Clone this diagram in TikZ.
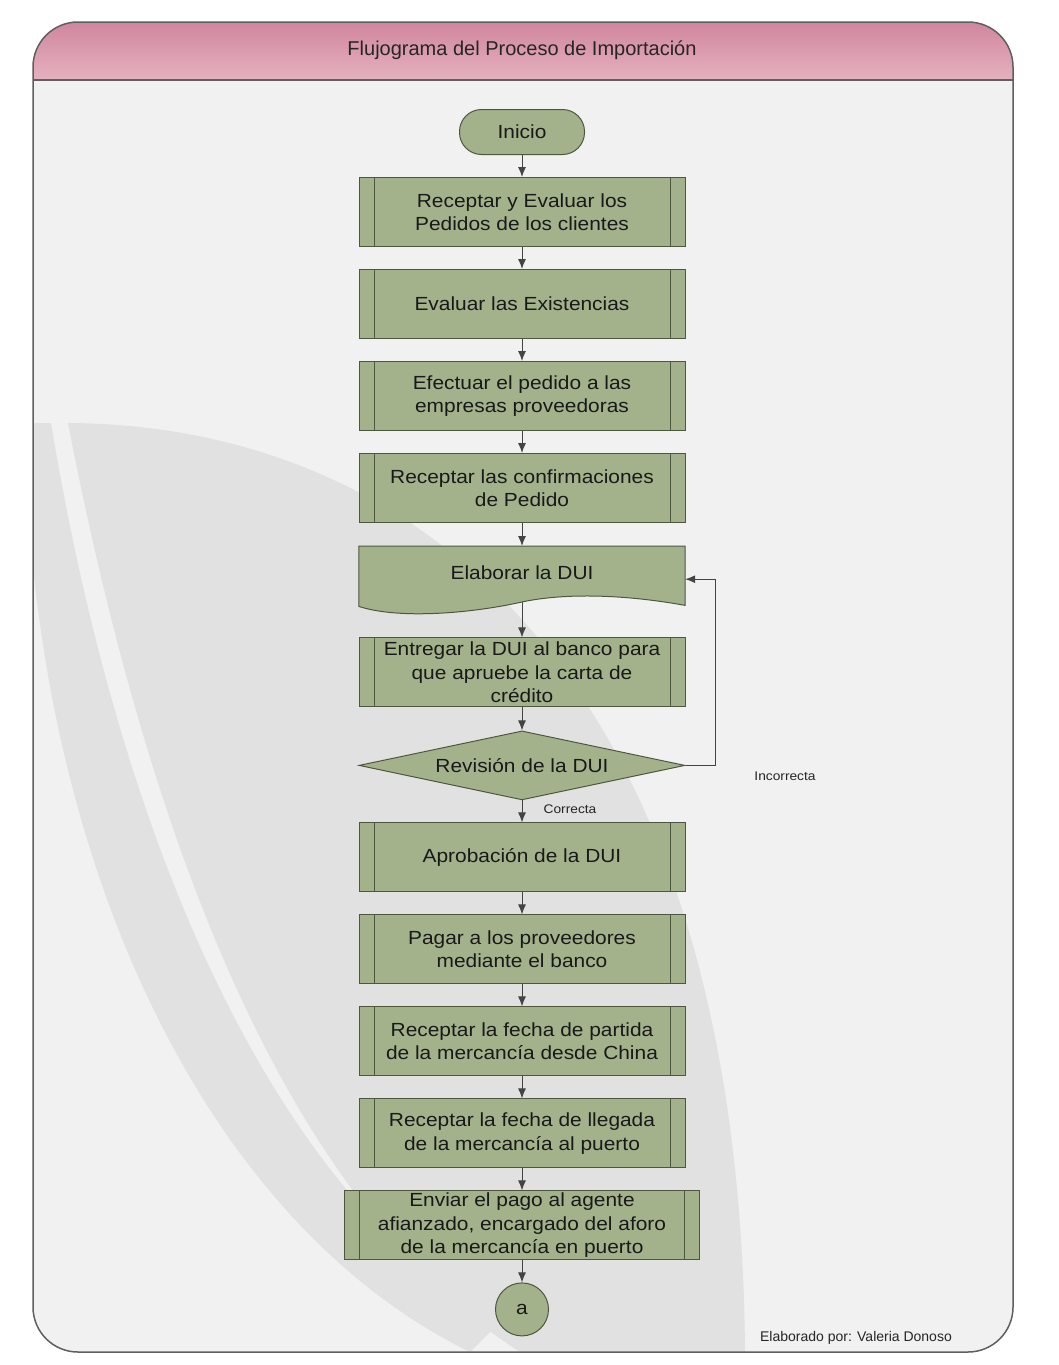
\documentclass[tikz,border=0pt]{standalone}
\usepackage{fontspec}
\setmainfont{Liberation Sans}
\newfontfamily\boxfont{Liberation Sans}[FakeStretch=1.1]
\usetikzlibrary{arrows.meta,shapes.geometric,positioning}
\pgfdeclarelayer{deco}
\pgfdeclarelayer{back}
\pgfsetlayers{deco,back,main}
\definecolor{boxfill}{RGB}{164,178,140}
\definecolor{boxline}{RGB}{78,86,64}
\definecolor{arrowgray}{RGB}{68,68,68}
\definecolor{framegray}{RGB}{95,95,95}
\definecolor{bandgray}{RGB}{225,225,225}
\definecolor{bggray}{RGB}{241,241,241}
\definecolor{pinktop}{RGB}{208,134,158}
\definecolor{pinkbot}{RGB}{229,177,191}
\tikzset{
    proc/.style={draw=boxline, fill=boxfill, line width=1pt, minimum width=326pt, minimum height=69pt,
        inner sep=0pt, align=center, text=black!90, font=\boxfont\fontsize{19}{23.5}\selectfont,
        path picture={\draw[boxline, line width=1pt]
            ([xshift=15pt]path picture bounding box.north west) -- ([xshift=15pt]path picture bounding box.south west)
            ([xshift=-15pt]path picture bounding box.north east) -- ([xshift=-15pt]path picture bounding box.south east);}},
    term/.style={draw=boxline, fill=boxfill, line width=1pt, rounded corners=22pt, minimum width=125pt,
        minimum height=45pt, text=black!90, font=\boxfont\fontsize{19}{23.5}\selectfont},
    docu/.style={minimum width=326pt, minimum height=56pt, inner sep=0pt, text height=14pt, text depth=3pt,
        text=black!90, font=\boxfont\fontsize{19}{23.5}\selectfont},
    decide/.style={diamond, aspect=4.7, draw=boxline, fill=boxfill, line width=1pt, minimum width=326pt,
        minimum height=69pt, inner sep=0pt, text=black!90, font=\boxfont\fontsize{19}{23.5}\selectfont},
    conn/.style={circle, draw=boxline, fill=boxfill, line width=1pt, minimum size=53pt, inner sep=0pt,
        text=black!90, font=\boxfont\fontsize{19}{23.5}\selectfont},
    flow/.style={-{Latex[length=10pt,width=8pt]}, line width=1pt, arrowgray},
    lbl/.style={text=black!85, font=\boxfont\fontsize{12.5}{15}\selectfont}
}

\begin{document}
\begin{tikzpicture}[x=1pt, y=-1pt, node distance=22pt]
\useasboundingbox (0,0) rectangle (1059,1365);

% background and frame
\begin{pgfonlayer}{deco}
\fill[white] (0,0) rectangle (1059,1365);
\begin{scope}
\clip[rounded corners=45pt] (33,22) rectangle (1013,1352);
\fill[bggray] (33,22) rectangle (1013,1352);
\fill[bandgray] (25,423) .. controls (30,850) and (200,1220) .. (470,1352)
    -- (500,1322) .. controls (300,1210) and (130,900) .. (51,423) -- cycle;
\fill[bandgray] (68,423) .. controls (420,425) and (740,680) .. (745,1352)
    -- (520,1352) .. controls (330,1230) and (170,950) .. (68,423) -- cycle;
\fill[bandgray] (588,1080) rectangle (643,1352);
\shade[top color=pinktop, bottom color=pinkbot] (33,22) rectangle (1013,80);
\end{scope}
\draw[framegray, line width=1.5pt, rounded corners=45pt] (33,22) rectangle (1013,1352);
\draw[framegray, line width=1.5pt] (33,80) -- (1013,80);
\end{pgfonlayer}

\node[text=black!85, font=\fontsize{20}{24}\selectfont] (title) at (522,50) {Flujograma del Proceso de Importación};

% flow
\node[term] (inicio) at (522,132) {Inicio};
\node[proc, below=of inicio] (pedidos) {Receptar y Evaluar los\\Pedidos de los clientes};
\node[proc, below=of pedidos] (existencias) {Evaluar las Existencias};
\node[proc, below=of existencias] (efectuar) {Efectuar el pedido a las\\empresas proveedoras};
\node[proc, below=of efectuar] (confirmar) {Receptar las confirmaciones\\de Pedido};
\node[docu, below=23pt of confirmar] (dui) {Elaborar la DUI};
\node[proc, below=35pt of dui] (entregar) {Entregar la DUI al banco para\\que apruebe la carta de\\crédito};
\node[decide, below=23pt of entregar] (revision) {Revisión de la DUI};
\node[proc, below=of revision] (aprobacion) {Aprobación de la DUI};
\node[proc, below=of aprobacion] (pagar) {Pagar a los proveedores\\mediante el banco};
\node[proc, below=of pagar] (partida) {Receptar la fecha de partida\\de la mercancía desde China};
\node[proc, below=of partida] (llegada) {Receptar la fecha de llegada\\de la mercancía al puerto};
\node[proc, minimum width=355pt, below=of llegada] (enviar) {Enviar el pago al agente\\afianzado, encargado del aforo\\de la mercancía en puerto};
\node[conn, below=of enviar] (a) {a};

% document shape
\begin{pgfonlayer}{back}
\draw[boxline, fill=boxfill, line width=1pt] (dui.north west) -- (dui.north east) -- ([yshift=-3pt]dui.south east)
    .. controls ([xshift=-66pt,yshift=9pt]dui.south east) and ([xshift=38pt,yshift=9pt]dui.south) .. ([xshift=-2pt]dui.south)
    .. controls ([xshift=-52pt,yshift=-11pt]dui.south) and ([xshift=40pt,yshift=-17pt]dui.south west) .. ([yshift=-4pt]dui.south west)
    -- cycle;
\end{pgfonlayer}

\draw[flow] (inicio) -- (pedidos);
\draw[flow] (pedidos) -- (existencias);
\draw[flow] (existencias) -- (efectuar);
\draw[flow] (efectuar) -- (confirmar);
\draw[flow] (confirmar) -- (dui);
\draw[flow] (dui) -- (entregar);
\draw[flow] (entregar) -- (revision);
\draw[flow] (revision) -- (aprobacion);
\draw[flow] (revision.east) -- ++(30,0) |- ([yshift=-5pt]dui.east);
\draw[flow] (aprobacion) -- (pagar);
\draw[flow] (pagar) -- (partida);
\draw[flow] (partida) -- (llegada);
\draw[flow] (llegada) -- (enviar);
\draw[flow] (enviar) -- (a);

\node[lbl] (incorrecta) at (785,776) {Incorrecta};
\node[lbl] (correcta) at (570,809) {Correcta};
\node[text=black!85, font=\fontsize{14}{16}\selectfont] (autor) at (856,1338) {Elaborado por: Valeria Donoso};
\end{tikzpicture}
\end{document}
